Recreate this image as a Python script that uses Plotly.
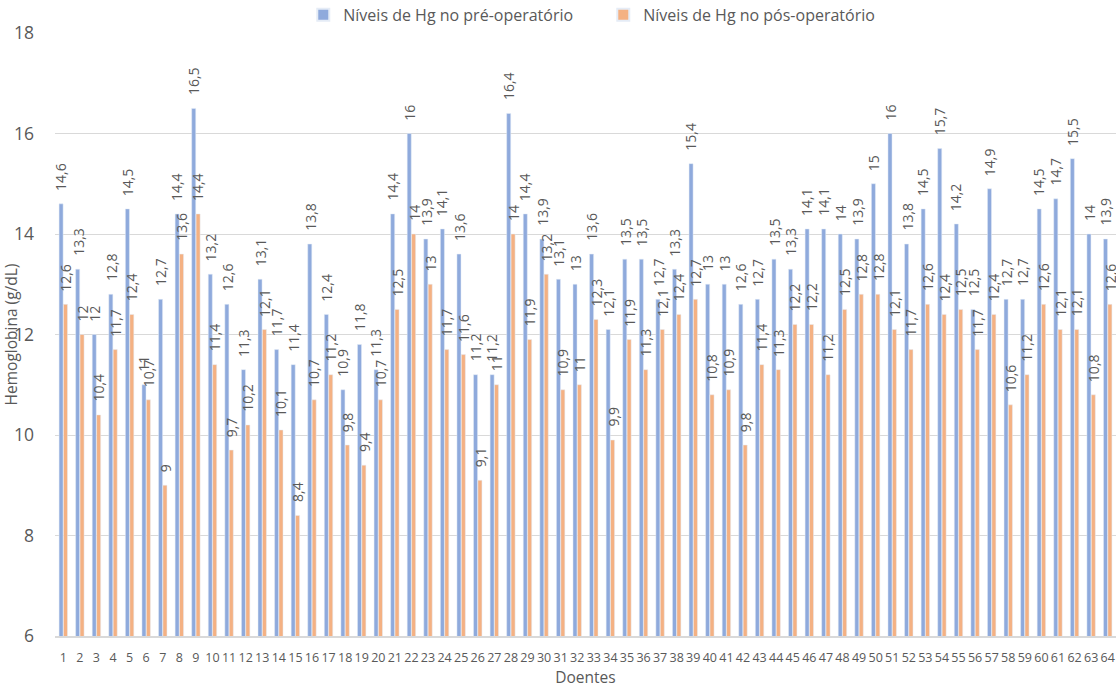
import plotly.graph_objects as go

doentes = [str(i) for i in range(1, 65)]
pre = [14.6, 13.3, 12, 12.8, 14.5, 11, 12.7, 14.4, 16.5, 13.2,
       12.6, 11.3, 13.1, 11.7, 11.4, 13.8, 12.4, 10.9, 11.8, 11.3,
       14.4, 16, 13.9, 14.1, 13.6, 11.2, 11.2, 16.4, 14.4, 13.9,
       13.1, 13, 13.6, 12.1, 13.5, 13.5, 12.7, 13.3, 15.4, 13,
       13, 12.6, 12.7, 13.5, 13.3, 14.1, 14.1, 14, 13.9, 15,
       16, 13.8, 14.5, 15.7, 14.2, 12.5, 14.9, 12.7, 12.7, 14.5,
       14.7, 15.5, 14, 13.9]
pos = [12.6, 12, 10.4, 11.7, 12.4, 10.7, 9, 13.6, 14.4, 11.4,
       9.7, 10.2, 12.1, 10.1, 8.4, 10.7, 11.2, 9.8, 9.4, 10.7,
       12.5, 14, 13, 11.7, 11.6, 9.1, 11, 14, 11.9, 13.2,
       10.9, 11, 12.3, 9.9, 11.9, 11.3, 12.1, 12.4, 12.7, 10.8,
       10.9, 9.8, 11.4, 11.3, 12.2, 12.2, 11.2, 12.5, 12.8, 12.8,
       12.1, 11.7, 12.6, 12.4, 12.5, 11.7, 12.4, 10.6, 11.2, 12.6,
       12.1, 12.1, 10.8, 12.6]

def fmt(v):
    return ("%g" % v).replace(".", ",")

FONT = "Open Sans"
GRAY = "#595959"

fig = go.Figure()
fig.add_trace(go.Bar(x=doentes, y=pre, name="Níveis de Hg no pré-operatório",
                     marker_color="#8FAADC"))
fig.add_trace(go.Bar(x=doentes, y=pos, name="Níveis de Hg no pós-operatório",
                     marker_color="#F4B183"))

# data labels: on a category axis, annotation x uses the category index
annotations = []
for series, dx in ((pre, -2.2), (pos, 2.2)):
    for idx, v in enumerate(series):
        annotations.append(dict(
            x=idx, y=v, xref="x", yref="y", text=fmt(v), showarrow=False,
            textangle=-90, xanchor="center", yanchor="bottom",
            xshift=dx, yshift=11,
            font=dict(family=FONT, size=14, color=GRAY)))

fig.update_layout(
    width=1116, height=689,
    margin=dict(l=55, r=0, t=33, b=53, autoexpand=False),
    paper_bgcolor="white", plot_bgcolor="white",
    barmode="group", bargap=0.47, bargroupgap=0.08,
    font=dict(family=FONT, color=GRAY, size=13),
    annotations=annotations,
    legend=dict(orientation="h", x=0.234, xanchor="left", y=1.03, yanchor="middle",
                font=dict(size=16, color=GRAY), entrywidth=255, entrywidthmode="pixels",
                itemsizing="constant", itemwidth=30),
    xaxis=dict(type="category", range=[-0.5, len(doentes) - 0.5],
               tickfont=dict(size=12.5, color=GRAY), tickangle=0, showgrid=False,
               showline=True, linecolor="#D9D9D9", linewidth=1.5, automargin=False,
               ticks="", ticklabelstandoff=9,
               title=dict(text="Doentes", font=dict(size=15.5, color=GRAY), standoff=2)),
    yaxis=dict(range=[6, 18], dtick=2, showgrid=True, gridcolor="#D9D9D9", gridwidth=1,
               zeroline=False, tickfont=dict(size=17.5, color=GRAY), ticks="",
               ticklabelstandoff=20, automargin=False,
               title=dict(text="Hemoglobina (g/dL)", font=dict(size=15.5, color=GRAY), standoff=0)),
)

fig.write_html("out.html")
